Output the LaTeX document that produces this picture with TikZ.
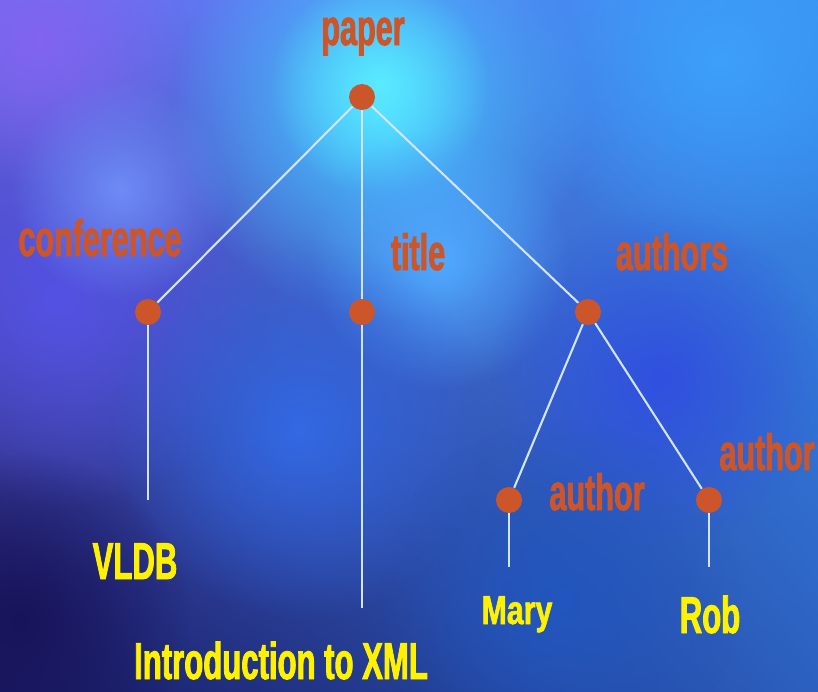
\documentclass[tikz,border=0pt]{standalone}
\usepackage{fontspec}
\usetikzlibrary{fadings,shadings}

\newfontfamily\narrowfont{Liberation Sans Bold}[FakeStretch=0.6,FakeBold=1.6]
\newfontfamily\wideleaffont{Liberation Sans Bold}[FakeStretch=0.75,FakeBold=1.6]

\definecolor{tagorange}{HTML}{CC5629}
\definecolor{leafyellow}{HTML}{FFF200}
\definecolor{linkwhite}{HTML}{D2E4FF}
% background tones
\definecolor{bgNW}{HTML}{6C6EF0}
\definecolor{bgNE}{HTML}{3A90F0}
\definecolor{bgSW}{HTML}{1A1A64}
\definecolor{bgSE}{HTML}{2C60C0}
\definecolor{cloudA}{HTML}{5452E4}
\definecolor{cloudB}{HTML}{8264F0}
\definecolor{cloudC}{HTML}{6E8CF5}
\definecolor{cloudD}{HTML}{3CA0FA}
\definecolor{cloudE}{HTML}{46C8FF}
\definecolor{cloudF}{HTML}{5AEBFF}
\definecolor{cloudG}{HTML}{50AAFF}
\definecolor{cloudH}{HTML}{3050E0}
\definecolor{cloudI}{HTML}{3269E4}
\definecolor{cloudJ}{HTML}{2256BE}
\definecolor{cloudK}{HTML}{18145A}

\tikzfading[name=cloud fade, inner color=transparent!0, outer color=transparent!100]

\begin{document}
\begin{tikzpicture}[x=0.02cm, y=-0.02cm]
    \tikzstyle{dot}=[circle,fill=tagorange,minimum size=0.52cm,inner sep=0pt]
    \tikzstyle{link}=[draw=linkwhite,line width=1.2pt]
    \tikzstyle{tag}=[anchor=base,text=tagorange,inner sep=0pt,
        font=\narrowfont\fontsize{29}{34}\selectfont]
    \tikzstyle{leaf}=[anchor=base,text=leafyellow,inner sep=0pt,
        font=\narrowfont\fontsize{29.5}{35}\selectfont]

    \useasboundingbox (0,0) rectangle (818,691);

    % Background: four corner colours, then soft clouds on top
    \shade[upper left=bgNW,upper right=bgNE,lower left=bgSW,lower right=bgSE]
        (0,0) rectangle (818,691);
    \foreach \x/\y/\r/\col in {
        60/300/4.2cm/cloudA, 40/40/3cm/cloudB, 120/190/2.2cm/cloudC,
        720/60/4cm/cloudD, 380/110/4.2cm/cloudE, 380/85/2.2cm/cloudF,
        440/260/2.6cm/cloudG, 660/380/3.4cm/cloudH, 300/430/3.8cm/cloudI,
        560/600/3.6cm/cloudJ, 20/620/3.4cm/cloudK}
        \fill[color=\col,path fading=cloud fade] (\x,\y) circle (\r);

    % Tree nodes
    \node[dot] (paper) at (362,97) {};
    \node[dot] (conference) at (148,312) {};
    \node[dot] (title) at (362,312) {};
    \node[dot] (authors) at (588,312) {};
    \node[dot] (author-1) at (509,500) {};
    \node[dot] (author-2) at (709,500) {};

    % Free ends of the leaf lines
    \coordinate (vldb-end) at (148,500);
    \coordinate (title-end) at (362,608);
    \coordinate (mary-end) at (509,567);
    \coordinate (rob-end) at (709,567);

    % Edges
    \foreach \dest in {conference,title,authors}
        \path[link] (paper) -- (\dest);
    \foreach \dest in {author-1,author-2}
        \path[link] (authors) -- (\dest);
    \path[link] (conference) -- (vldb-end);
    \path[link] (title) -- (title-end);
    \path[link] (author-1) -- (mary-end);
    \path[link] (author-2) -- (rob-end);

    % Element names
    \node[tag] (paper-tag) at (363,45) {paper};
    \node[tag] (conference-tag) at (100,256) {conference};
    \node[tag] (title-tag) at (418,270) {title};
    \node[tag] (authors-tag) at (672,270) {authors};
    \node[tag] (author-tag-1) at (597,510) {author};
    \node[tag] (author-tag-2) at (767,470) {author};

    % Text values
    \node[leaf] (vldb) at (135,579) {VLDB};
    \node[leaf,text depth=0pt] (intro) at (281,679) {Introduction to XML};
    \node[leaf,font=\wideleaffont\fontsize{23}{28}\selectfont] (mary) at (517,624) {Mary};
    \node[leaf] (rob) at (710,633) {Rob};
\end{tikzpicture}
\end{document}
